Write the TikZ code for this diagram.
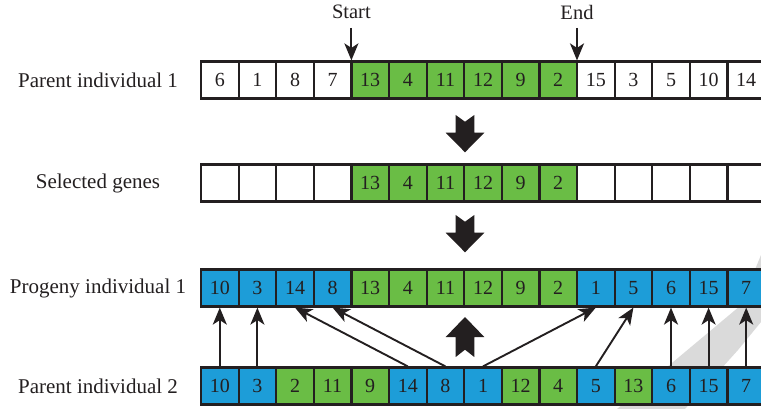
\documentclass[tikz,border=0pt]{standalone}
\usepackage{fontspec}
\setmainfont{Liberation Serif}
\usetikzlibrary{arrows.meta}
\definecolor{ink}{HTML}{231F20}
\definecolor{gg}{RGB}{106,189,69}
\definecolor{bb}{RGB}{29,157,216}
\definecolor{wm}{RGB}{218,218,218}
\begin{document}
\begin{tikzpicture}[x=1pt,y=-1pt,
  cell/.style={draw=ink,line width=2.2pt,minimum width=37.6pt,minimum height=37pt,inner sep=0pt,
    font=\fontsize{20}{22}\selectfont,text=ink},
  lab/.style={font=\fontsize{21}{24}\selectfont,text=ink,inner sep=2pt},
  con/.style={draw=ink,line width=1.9pt,-{Stealth[length=17pt,width=14pt,inset=4.5pt]}},
  blockarrow/.style={fill=ink,draw=none}]
\useasboundingbox (0,0) rectangle (761,409);
% watermark
\fill[wm] (617,409) -- (740,306) -- (761,255) -- (761,322) -- (738,350) -- (685,409) -- cycle;
% row 1: parent individual 1
\foreach \v/\c [count=\i from 0] in {6/white,1/white,8/white,7/white,13/gg,4/gg,11/gg,12/gg,9/gg,2/gg,15/white,3/white,5/white,10/white,14/white}
  \node[cell,fill=\c] (a\i) at ({201+37.6*(\i+0.5)},80) {\v};
% row 2: selected genes
\foreach \v/\c [count=\i from 0] in {{}/white,{}/white,{}/white,{}/white,13/gg,4/gg,11/gg,12/gg,9/gg,2/gg,{}/white,{}/white,{}/white,{}/white,{}/white}
  \node[cell,fill=\c] (b\i) at ({201+37.6*(\i+0.5)},183) {\v};
% row 3: progeny individual 1
\foreach \v/\c [count=\i from 0] in {10/bb,3/bb,14/bb,8/bb,13/gg,4/gg,11/gg,12/gg,9/gg,2/gg,1/bb,5/bb,6/bb,15/bb,7/bb}
  \node[cell,fill=\c] (c\i) at ({201+37.6*(\i+0.5)},288) {\v};
% row 4: parent individual 2
\foreach \v/\c [count=\i from 0] in {10/bb,3/bb,2/gg,11/gg,9/gg,14/bb,8/bb,1/bb,12/gg,4/gg,5/bb,13/gg,6/bb,15/bb,7/bb}
  \node[cell,fill=\c] (d\i) at ({201+37.6*(\i+0.5)},386) {\v};
% labels
\node[lab] (l1) at (98,80) {Parent individual 1};
\node[lab] (l2) at (98,183) {Selected genes};
\node[lab] (l3) at (98,288) {Progeny individual 1};
\node[lab] (l4) at (98,386) {Parent individual 2};
% start / end
\node[lab,font=\fontsize{20.5}{22}\selectfont] (st) at (351.4,12) {Start};
\node[lab,font=\fontsize{20.5}{22}\selectfont] (en) at (577,12) {End};
\coordinate (sts) at (351.4,28);
\coordinate (ens) at (577,28);
\draw[con] (sts) -- (sts |- a3.north);
\draw[con] (ens) -- (ens |- a9.north);
% inheritance arrows
\foreach \s/\t in {0/0,1/1,5/2,6/3,7/10,10/11,12/12,13/13,14/14}
  \draw[con] (d\s.north) -- (c\t.south);
% block arrows
\foreach \T in {115,215}
  \fill[blockarrow] (455.7,\T) -- (465,\T+6.7) -- (474.3,\T) -- (474.3,\T+17.7) -- (484.3,\T+17.7)
    -- (465,\T+37.3) -- (445.7,\T+17.7) -- (455.7,\T+17.7) -- cycle;
\fill[blockarrow] (465,317) -- (484.3,337) -- (474.3,337) -- (474.3,357) -- (465,349.7)
  -- (455.7,357) -- (455.7,337) -- (445.7,337) -- cycle;
\end{tikzpicture}
\end{document}
